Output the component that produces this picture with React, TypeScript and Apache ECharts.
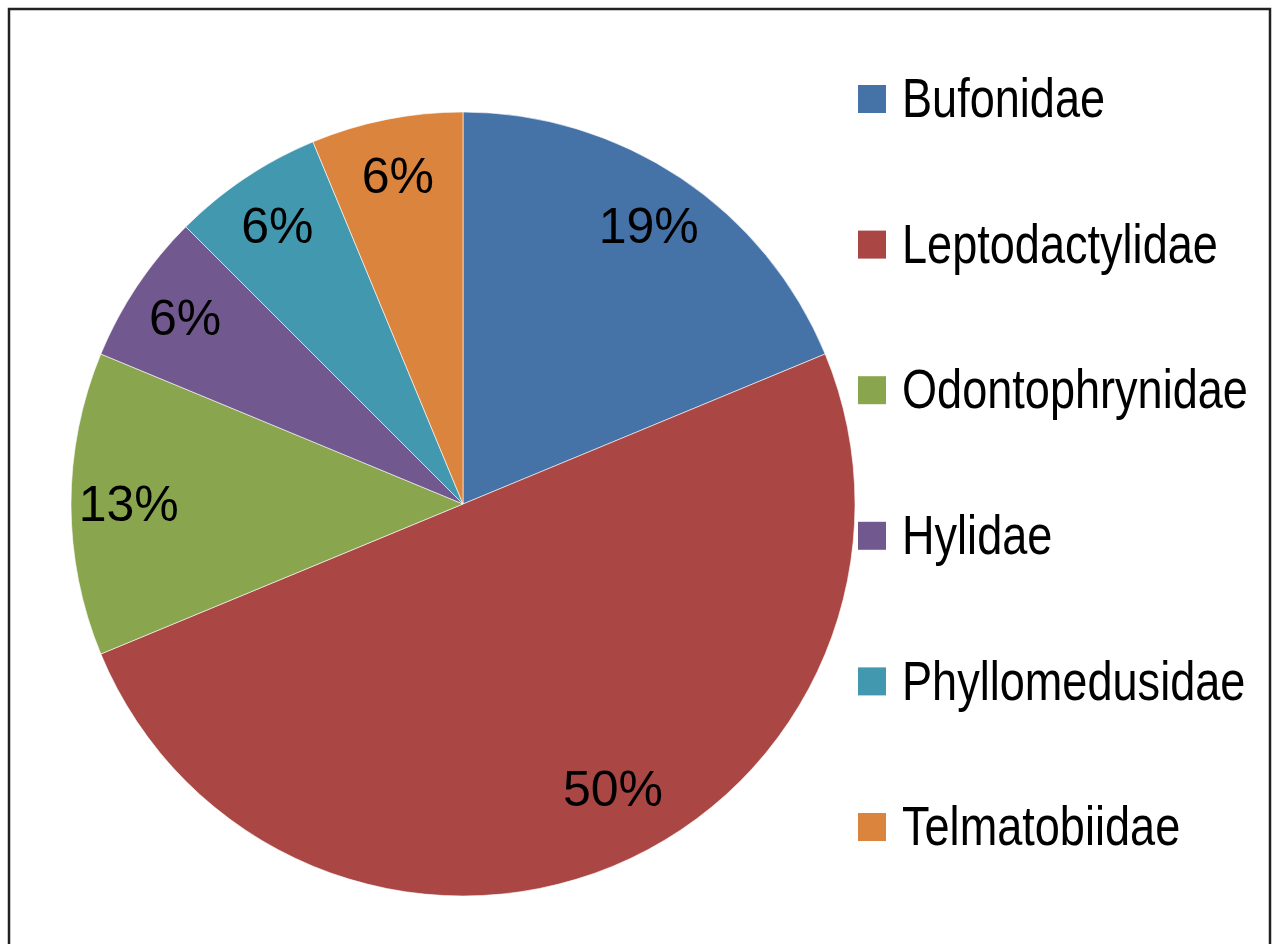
import React, { useEffect, useRef } from "react";
import * as echarts from "echarts";

const families = [
  "Bufonidae",
  "Leptodactylidae",
  "Odontophrynidae",
  "Hylidae",
  "Phyllomedusidae",
  "Telmatobiidae",
];
const speciesCounts = [3, 8, 2, 1, 1, 1];
const sliceColors = ["#4572A7", "#AA4643", "#89A54E", "#71588F", "#4198AF", "#DB843D"];

const FONT = '"Liberation Sans", Arial, Helvetica, sans-serif';

export default function App() {
  const ref = useRef<HTMLDivElement>(null);
  useEffect(() => {
    if (!ref.current) return;
    const chart = echarts.init(ref.current, undefined, { renderer: "svg" });
    const data = families.map((name, i) => ({
      name,
      value: speciesCounts[i],
      itemStyle: { color: sliceColors[i] },
    }));
    const R = 392;
    const legendTop = 99;
    const legendStep = 145.6;
    const legendItems: any[] = [];
    families.forEach((name, i) => {
      const cy = legendTop + i * legendStep;
      legendItems.push({
        type: "rect",
        shape: { x: 858, y: cy - 14, width: 28, height: 28 },
        style: { fill: sliceColors[i] },
        silent: true,
      });
      legendItems.push({
        type: "text",
        x: 902,
        y: cy - 1,
        scaleX: 0.82,
        style: {
          text: name,
          x: 0,
          y: 0,
          fontFamily: FONT,
          fontSize: 55,
          fill: "#000",
          textAlign: "left",
          textVerticalAlign: "middle",
        },
        silent: true,
      });
    });
    chart.setOption({
      animation: false,
      backgroundColor: "#ffffff",
      graphic: [
        {
          type: "rect",
          shape: { x: 9, y: 9, width: 1261, height: 980 },
          style: { fill: "none", stroke: "#222", lineWidth: 2.5 },
          silent: true,
        },
        ...legendItems,
      ],
      series: [
        {
          type: "pie",
          center: [463, 504],
          radius: [0, R],
          startAngle: 90,
          clockwise: true,
          data,
          label: { show: false },
          labelLine: { show: false },
          itemStyle: { borderColor: "rgba(255,255,255,0.6)", borderWidth: 1 },
          emphasis: { disabled: true },
        },
        {
          type: "pie",
          center: [463, 504],
          radius: [R * 0.69, R],
          startAngle: 90,
          clockwise: true,
          data: data.map((d) => ({
            name: d.name,
            value: d.value,
            label: d.name === "Leptodactylidae" ? { offset: [22, -24] } : undefined,
          })),
          itemStyle: { color: "rgba(0,0,0,0)", borderWidth: 0 },
          label: {
            show: true,
            position: "inside",
            fontFamily: FONT,
            fontSize: 50,
            color: "#000",
            formatter: (p: any) => Math.round(p.percent) + "%",
          },
          labelLine: { show: false },
          emphasis: { disabled: true },
          silent: true,
        },
      ],
    });
    return () => chart.dispose();
  }, []);
  return (
    <div
      ref={ref}
      style={{ position: "absolute", left: 0, top: 0, width: 1273, height: 944 }}
    />
  );
}
